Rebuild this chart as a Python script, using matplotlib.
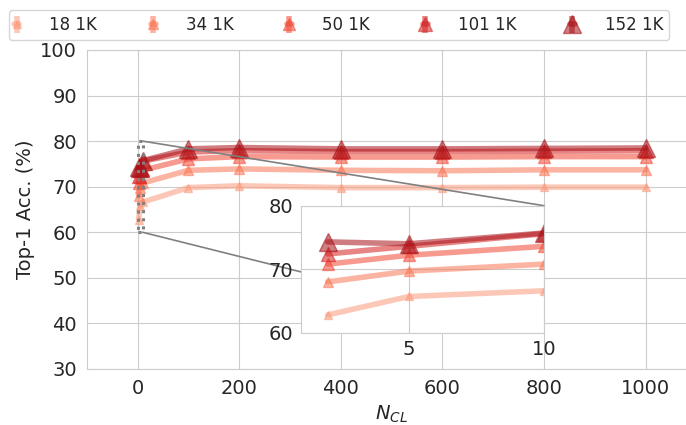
import matplotlib
matplotlib.use("Agg")
import matplotlib.pyplot as plt
import seaborn as sns
from matplotlib.patches import Rectangle, ConnectionPatch

sns.set_style("whitegrid")
plt.rcParams["font.family"] = ["DejaVu Sans"]

# number of CL samples vs top-1 accuracy for each model depth
n_cl = [2, 5, 10, 100, 200, 400, 600, 800, 1000]
labels = ["18 1K", "34 1K", "50 1K", "101 1K", "152 1K"]
acc_18 = [62.8, 65.7, 66.6, 69.8, 70.2, 69.8, 69.8, 69.9, 69.9]
acc_34 = [68.0, 69.7, 70.8, 73.6, 73.9, 73.6, 73.5, 73.7, 73.7]
acc_50 = [70.8, 72.2, 73.6, 76.1, 76.6, 76.5, 76.5, 76.6, 76.6]
acc_101 = [72.4, 73.6, 75.6, 77.6, 77.9, 77.7, 77.7, 77.8, 77.9]
acc_152 = [74.3, 74.0, 75.7, 78.3, 78.6, 78.3, 78.3, 78.4, 78.5]
series = [acc_18, acc_34, acc_50, acc_101, acc_152]
zero_err = [0.0] * len(n_cl)

colors = ["#fc9a7c", "#fb7757", "#f24a36", "#d42222", "#a81218"]
msizes = [6, 7, 8, 10, 13]

fig = plt.figure(figsize=(6.86, 4.25), dpi=100)
ax = fig.add_axes([0.1264, 0.1318, 0.889, 0.7506])
axins = fig.add_axes([0.4383, 0.2172, 0.3547, 0.2988])
axins.set_zorder(10)

for a in (ax, axins):
    for vals, lab, c, ms in zip(series, labels, colors, msizes):
        a.errorbar(n_cl, vals, yerr=zero_err, color=c, marker="^", markersize=ms,
                   linewidth=4, elinewidth=4, alpha=0.55, label=lab)

ax.set_xlim(-100, 1100)
ax.set_ylim(30, 100)
ax.set_xticks([0, 200, 400, 600, 800, 1000])
ax.set_yticks(range(30, 101, 10))
ax.tick_params(labelsize=14)
ax.set_xlabel("$N_{CL}$", fontsize=14)
ax.set_ylabel("Top-1 Acc. (%)", fontsize=14)
ax.spines["right"].set_visible(False)

axins.set_xlim(1, 10)
axins.set_ylim(60, 80)
axins.set_xticks([5, 10])
axins.set_yticks([60, 70, 80])
axins.tick_params(labelsize=14, pad=2)

# zoom box and connectors (drawn in the main axes so the inset hides them)
x0, x1 = axins.get_xlim()
y0, y1 = axins.get_ylim()
box = Rectangle((x0, y0), x1 - x0, y1 - y0, fill=False, ec="0.5",
                ls=":", lw=2.2, zorder=6)
ax.add_patch(box)
for yv, fy in ((y1, 1), (y0, 0)):
    con = ConnectionPatch(xyA=(x1, yv), coordsA=ax.transData,
                          xyB=(1, fy), coordsB=axins.transAxes,
                          color="0.5", lw=1.2, zorder=6)
    ax.add_artist(con)

handles, lbls = ax.get_legend_handles_labels()
fig.legend(handles, lbls, loc="upper center", bbox_to_anchor=(0.494, 0.995),
           ncol=5, fontsize=12, handlelength=0.3, handletextpad=1.8,
           columnspacing=3.2, borderpad=0.35, frameon=True)

fig.savefig("out.png", dpi=100)
